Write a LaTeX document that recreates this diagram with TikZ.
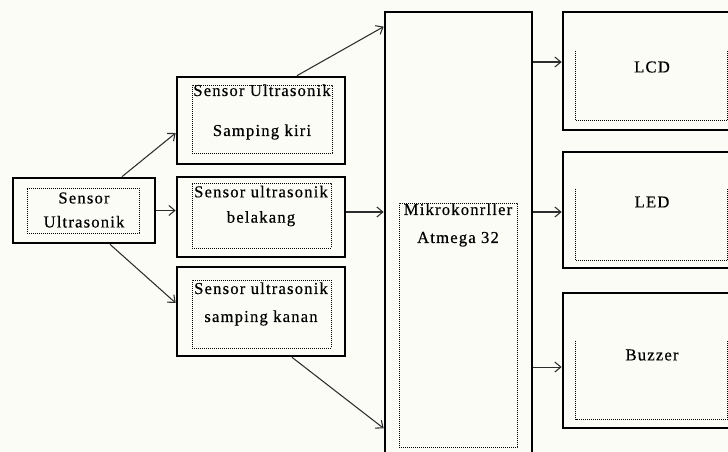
\documentclass[tikz,border=0pt]{standalone}
\usepackage{fontspec}
\setmainfont{Liberation Serif}[LetterSpace=7, FakeBold=0.4]
\usetikzlibrary{arrows.meta,positioning,calc}
\definecolor{paper}{RGB}{252,252,247}
\definecolor{linegray}{RGB}{45,45,45}

\begin{document}
\begin{tikzpicture}[
    x=0.75pt, y=-0.75pt,
    box/.style={
        draw,
        line width=2pt,
        minimum width=126pt,
        inner sep=0pt
    },
    inbox/.style={
        draw,
        line width=0.7pt,
        dash pattern=on 0.7pt off 0.8pt,
        inner sep=0pt
    },
    inline/.style={
        line width=0.7pt,
        dash pattern=on 0.7pt off 0.8pt
    },
    txt/.style={
        align=center,
        inner sep=0pt,
        font=\fontsize{12.5}{21}\selectfont
    },
    arr/.style={->, line width=0.8pt, draw=linegray},
    >={Straight Barb[length=4.5pt, width=7.5pt]}
]

\useasboundingbox (0,0) rectangle (728,452);
\fill[paper] (0,0) rectangle (728,452);
\clip (0,0) rectangle (728,452);

% input sensor
\node[box, minimum width=106.5pt, minimum height=48.75pt] (us) at (84,210.5) {};
\node[inbox, minimum width=84pt, minimum height=33.75pt] (usin) at (83,210.5) {};
\node[txt] (ustxt) at (84,210) {Sensor\\[-3pt]Ultrasonik};

% three sensors
\node[box, minimum height=65.25pt] (kiri) at (261,120.5) {};
\node[inbox, minimum width=105pt, minimum height=51pt] (kiriin) at (262,119) {};
\node[txt] (kiritxt) at (262,112) {Sensor Ultrasonik\\[9pt]Samping kiri};

\node[box, minimum height=60pt] (belakang) at (261,217) {};
\node[inbox, minimum width=104.25pt, minimum height=48.75pt] (belakangin) at (261.5,215.5) {};
\node[txt] (belakangtxt) at (261,206) {Sensor ultrasonik\\[-2pt]belakang};

\node[box, minimum height=66.75pt] (kanan) at (261,311.5) {};
\node[inbox, minimum width=104.25pt, minimum height=51pt] (kananin) at (261.5,314) {};
\node[txt] (kanantxt) at (261,304) {Sensor ultrasonik\\samping kanan};

% microcontroller
\node[box, minimum width=110.25pt, minimum height=333pt] (micro) at (458.5,234) {};
\node[inbox, minimum width=88.5pt, minimum height=183pt] (microin) at (458,325) {};
\node[txt] (microtxt) at (458,225) {Mikrokonrller\\Atmega 32};

% outputs
\node[box, minimum width=132.75pt, minimum height=88.5pt] (lcd) at (651.5,71) {};
\node[box, minimum width=132.75pt, minimum height=87pt] (led) at (651.5,210) {};
\node[box, minimum width=132.75pt, minimum height=101.25pt] (buzzer) at (651.5,360.5) {};

\draw[inline] ([shift={(10.5pt,-30pt)}]lcd.north west) |- ([shift={(-10.5pt,8.25pt)}]lcd.south east) -- ([shift={(-10.5pt,-30pt)}]lcd.north east);
\draw[inline] ([shift={(10.5pt,-28.5pt)}]led.north west) |- ([shift={(-10.5pt,6.75pt)}]led.south east) -- ([shift={(-10.5pt,-28.5pt)}]led.north east);
\draw[inline] ([shift={(10.5pt,-36.75pt)}]buzzer.north west) |- ([shift={(-10.5pt,7.5pt)}]buzzer.south east) -- ([shift={(-10.5pt,-36.75pt)}]buzzer.north east);

\node[txt] (lcdtxt) at (652,67) {LCD};
\node[txt] (ledtxt) at (652,202) {LED};
\node[txt] (buzzertxt) at (652,355) {Buzzer};

% connections
\draw[arr] ([xshift=28.5pt]us.north) -- ([yshift=-9.4pt]kiri.west);
\draw[arr] (us.east) -- (us.east -| belakang.west);
\draw[arr] ([xshift=19.5pt]us.south) -- ([yshift=6.4pt]kanan.west);

\draw[arr] ([xshift=27pt]kiri.north) -- ([yshift=-12pt]micro.north west);
\coordinate (bel) at ([yshift=3.75pt]belakang.east);
\draw[arr] (bel) -- (bel -| micro.west);
\draw[arr] ([xshift=23.25pt]kanan.south) -- ([yshift=21.75pt]micro.south west);

\coordinate (lcdin) at ([yshift=6.75pt]lcd.west);
\coordinate (ledin) at ([yshift=-1.5pt]led.west);
\coordinate (buzzerin) at ([yshift=-4.9pt]buzzer.west);
\draw[arr] (lcdin -| micro.east) -- (lcdin);
\draw[arr] (ledin -| micro.east) -- (ledin);
\draw[arr] (buzzerin -| micro.east) -- (buzzerin);

\end{tikzpicture}
\end{document}
